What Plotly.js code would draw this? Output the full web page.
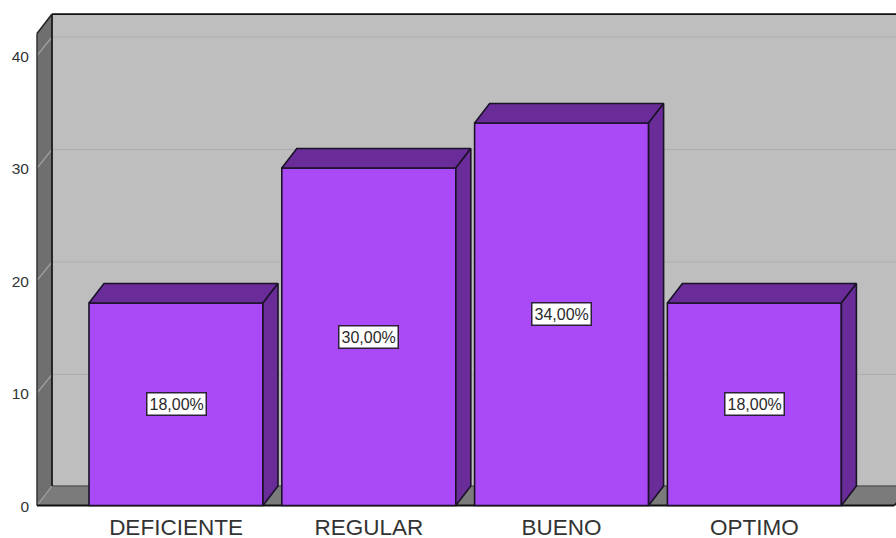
<!DOCTYPE html>
<html>
<head>
<meta charset="utf-8">
<script src="https://cdn.plot.ly/plotly-3.0.1.min.js"></script>
<style>html,body{margin:0;padding:0;background:#fff}#chart{width:896px;height:538px}</style>
</head>
<body>
<div id="chart"></div>
<script>
const categories = ['DEFICIENTE', 'REGULAR', 'BUENO', 'OPTIMO'];
const counts = [18, 30, 34, 18];
const percentLabels = ['18,00%', '30,00%', '34,00%', '18,00%'];
const yTicks = [0, 10, 20, 30, 40];

const positions = categories.map((_, i) => i);
const pxX = 192.8, pxY = 11.25;
const barWidth = 174 / pxX;
const depthX = 15 / pxX;
const depthY = 19.5 / pxY;
const gridDepthY = 18.5 / pxY;
const wallLeft = -139 / pxX;
const wallRight = 3 + 140 / pxX;
const wallTop = 41.95;

const xRange = [(30 - 176) / pxX, (896 - 176) / pxX];
const yRange = [-4.5 / pxY, 495.5 / pxY];

const frontColor = '#AA4AF6', shadeColor = '#6A2C99', edge = '#1A1226';
const poly = (xs, ys, fill, name) => ({
  type: 'scatter', mode: 'lines', x: xs.concat(xs[0]), y: ys.concat(ys[0]),
  fill: 'toself', fillcolor: fill, line: {color: edge, width: 1.6},
  hoverinfo: 'skip', showlegend: false, name: name
});
const path = pts => 'M' + pts.map(p => p[0] + ',' + p[1]).join('L') + 'Z';
const lineShape = (x0, y0, x1, y1, color, width) => ({
  type: 'line', layer: 'below', xref: 'x', yref: 'y', x0, y0, x1, y1, line: {color, width}
});
const areaShape = (pts, fill) => ({
  type: 'path', layer: 'below', xref: 'x', yref: 'y', path: path(pts), fillcolor: fill, line: {width: 0}
});

const traces = [{
  type: 'bar', x: positions, y: counts, width: barWidth,
  marker: {color: frontColor, line: {color: edge, width: 1.6}},
  hoverinfo: 'x+y', showlegend: false
}];
positions.forEach((p, i) => {
  const l = p - barWidth / 2, r = p + barWidth / 2, v = counts[i];
  traces.push(poly([l, r, r + depthX, l + depthX], [v, v, v + depthY, v + depthY], shadeColor, categories[i] + ' top'));
  traces.push(poly([r, r + depthX, r + depthX, r], [0, depthY, v + depthY, v], shadeColor, categories[i] + ' side'));
});

const shapes = [
  areaShape([[wallLeft + depthX, depthY], [wallRight + depthX, depthY], [wallRight + depthX, wallTop + depthY], [wallLeft + depthX, wallTop + depthY]], '#BEBEBE'),
  areaShape([[wallLeft, 0], [wallLeft + depthX, depthY], [wallLeft + depthX, wallTop + depthY], [wallLeft, wallTop]], '#6F6F6F'),
  areaShape([[wallLeft, 0], [wallRight, 0], [wallRight + depthX, depthY], [wallLeft + depthX, depthY]], '#7B7B7B')
];
yTicks.forEach(t => {
  if (t > 0) {
    shapes.push(lineShape(wallLeft + depthX, t + gridDepthY, wallRight + depthX, t + gridDepthY, '#ADADAD', 1.2));
    shapes.push(lineShape(wallLeft, t, wallLeft + depthX, t + gridDepthY, '#A0A0A0', 1.2));
  }
});
shapes.push(lineShape(wallLeft, 0, wallLeft + depthX, depthY, '#A0A0A0', 1.2));
shapes.push(lineShape(wallLeft + depthX, depthY, wallRight + depthX, depthY, '#5A5A5A', 1.5));
shapes.push(lineShape(wallLeft + depthX, depthY, wallLeft + depthX, wallTop + depthY, '#1A1A1A', 1.8));
shapes.push(lineShape(wallLeft + depthX, wallTop + depthY, wallRight + depthX, wallTop + depthY, '#111111', 1.8));
shapes.push(lineShape(wallLeft, wallTop, wallLeft + depthX, wallTop + depthY, '#222222', 1.5));
shapes.push(lineShape(wallLeft, 0, wallLeft, wallTop, '#333333', 1.5));
shapes.push(lineShape(wallLeft, 0, wallRight, 0, '#111111', 2));
shapes.push(lineShape(wallRight, 0, wallRight + depthX, depthY, '#111111', 1.5));

const annotations = positions.map((p, i) => ({
  x: p, y: counts[i] / 2, xref: 'x', yref: 'y', text: percentLabels[i], showarrow: false,
  font: {family: 'Liberation Sans, Arial, sans-serif', size: 16, color: '#2a2a2a'},
  bgcolor: '#FFFFFF', bordercolor: '#2A2038', borderwidth: 1.5, borderpad: 2
}));

const layout = {
  width: 896, height: 538, paper_bgcolor: '#fff', plot_bgcolor: '#fff',
  margin: {l: 30, r: 0, t: 10, b: 28, pad: 0},
  showlegend: false, bargap: 0, shapes, annotations,
  xaxis: {
    range: xRange, tickmode: 'array', tickvals: positions, ticktext: categories,
    showgrid: false, zeroline: false, showline: false, ticks: '', automargin: false,
    ticklabelstandoff: 1,
    tickfont: {family: 'Liberation Sans, Arial, sans-serif', size: 22.5, color: '#333'}
  },
  yaxis: {
    range: yRange, tickmode: 'array', tickvals: yTicks, ticktext: yTicks.map(String),
    showgrid: false, zeroline: false, showline: false, ticks: '', automargin: false,
    ticklabelshift: 1,
    tickfont: {family: 'Liberation Sans, Arial, sans-serif', size: 15.5, color: '#333'}
  }
};
Plotly.newPlot('chart', traces, layout, {displayModeBar: false, staticPlot: true});
</script>
</body>
</html>
